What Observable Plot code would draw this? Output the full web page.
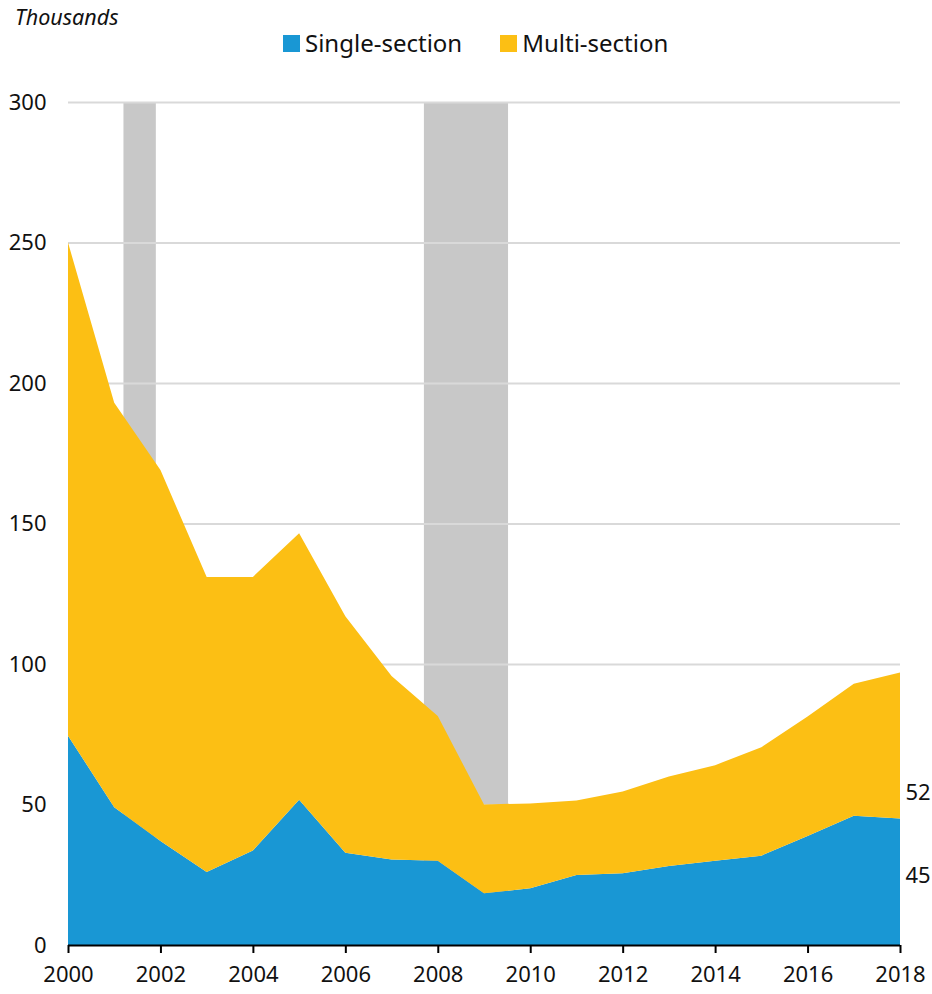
<!DOCTYPE html>
<html>
<head>
<meta charset="utf-8">
<script src="https://cdn.jsdelivr.net/npm/d3@7"></script>
<script src="https://cdn.jsdelivr.net/npm/@observablehq/plot@0.6"></script>
<style>
  body { margin: 0; background: #fff; font-family: "Noto Sans", sans-serif; color: #111; }
  #wrap { position: relative; width: 932px; height: 994px; overflow: hidden; }
  #header { position: relative; height: 60px; }
  .unit { position: absolute; left: 15px; top: 4px; font-style: italic; font-size: 21.5px; line-height: 26px; }
  .legend { position: absolute; left: 283px; top: 27px; display: flex; align-items: center; font-size: 24px; line-height: 32px; }
  .item { display: flex; align-items: center; margin-right: 38px; }
  .sw { width: 17px; height: 17px; display: inline-block; margin-right: 5px; }
  #chart svg { display: block; }
</style>
</head>
<body>
<div id="wrap">
  <div id="header">
    <div class="unit">Thousands</div>
    <div class="legend" id="legend"></div>
  </div>
  <div id="chart"></div>
</div>
<script>
// ---- data (thousands of units shipped) ----
const years = [2000, 2001, 2002, 2003, 2004, 2005, 2006, 2007, 2008, 2009,
               2010, 2011, 2012, 2013, 2014, 2015, 2016, 2017, 2018];
const singleSection = [74.5, 49, 37, 26, 33.6, 51.7, 32.8, 30.4, 30, 18.4,
                       20.2, 24.9, 25.5, 28.1, 30, 31.8, 38.8, 46, 45];
const multiSection  = [175.5, 144, 132, 105, 97.4, 94.8, 84.2, 65.3, 51.5, 31.6,
                       30.2, 26.5, 29.1, 31.9, 34, 38.6, 42.5, 47, 52];
const seriesNames = ["Single-section", "Multi-section"];
const seriesColors = ["#1997d4", "#fcbf14"];
const recessionStart = [2001.2, 2007.7];
const recessionEnd   = [2001.9, 2009.52];
const yTicks = [0, 50, 100, 150, 200, 250, 300];
const xTicks = [2000, 2002, 2004, 2006, 2008, 2010, 2012, 2014, 2016, 2018];

// ---- build tables ----
const series = [singleSection, multiSection];
const data = [];
seriesNames.forEach((name, s) => years.forEach((yr, i) => data.push({year: yr, type: name, value: series[s][i]})));
const recessions = recessionStart.map((s, i) => ({start: s, end: recessionEnd[i]}));
const last = years.length - 1;
const singleLabel = [{year: years[last], y: singleSection[last] / 2, text: String(singleSection[last])}];
const multiLabel  = [{year: years[last], y: singleSection[last], text: String(multiSection[last])}];

// ---- legend ----
const legend = document.getElementById("legend");
seriesNames.forEach((n, i) => {
  const it = document.createElement("div");
  it.className = "item";
  it.innerHTML = `<span class="sw" style="background:${seriesColors[i]}"></span><span>${n}</span>`;
  legend.appendChild(it);
});

// ---- chart ----
const chart = Plot.plot({
  width: 932,
  height: 934,
  marginTop: 42,
  marginBottom: 49,
  marginLeft: 68,
  marginRight: 32,
  style: {fontFamily: "'Noto Sans', sans-serif", fontSize: "22px", color: "#111", background: "#fff"},
  x: {domain: [2000, 2018]},
  y: {domain: [0, 300]},
  color: {domain: seriesNames, range: seriesColors},
  marks: [
    Plot.rect(recessions, {x1: "start", x2: "end", y1: 0, y2: 300, fill: "#c8c8c8"}),
    Plot.ruleY(yTicks.filter(d => d > 0), {stroke: "#d9d9d9", strokeWidth: 2}),
    Plot.areaY(data, {x: "year", y: "value", fill: "type", order: seriesNames}),
    Plot.ruleY([0], {stroke: "#000", strokeWidth: 2}),
    Plot.axisX(xTicks, {tickSize: 8, tickPadding: 13, tickFormat: d => String(d), strokeWidth: 2, stroke: "#000", fontSize: 22, label: null}),
    Plot.axisY(yTicks, {tickSize: 0, tickPadding: 22, fontSize: 22, label: null}),
    Plot.text(singleLabel, {x: "year", y: "y", text: "text", dy: -6, dx: 5, textAnchor: "start", fontSize: 22, fill: "#111"}),
    Plot.text(multiLabel, {x: "year", y: "y", text: "text", dy: -26, dx: 5, textAnchor: "start", fontSize: 22, fill: "#111"})
  ]
});
document.getElementById("chart").appendChild(chart);
</script>
</body>
</html>
